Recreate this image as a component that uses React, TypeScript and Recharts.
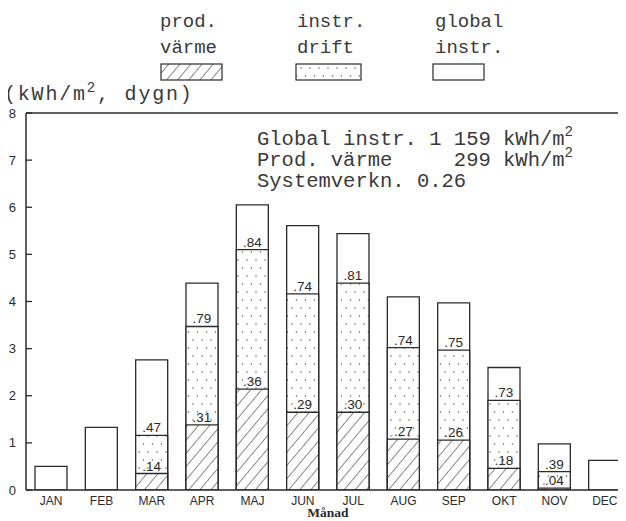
import React from "react";
import {
  BarChart,
  Bar,
  XAxis,
  YAxis,
  ReferenceLine,
  LabelList,
} from "recharts";

// monthly values, kWh/m2 per day
const months = ["JAN", "FEB", "MAR", "APR", "MAJ", "JUN", "JUL", "AUG", "SEP", "OKT", "NOV", "DEC"];
const globalInstr = [0.5, 1.33, 2.76, 4.39, 6.05, 5.61, 5.44, 4.1, 3.97, 2.6, 0.98, 0.63];
const instrDrift = [null, null, 1.16, 3.47, 5.1, 4.16, 4.39, 3.02, 2.97, 1.9, 0.39, null];
const prodVarme = [null, null, 0.35, 1.38, 2.14, 1.65, 1.65, 1.08, 1.06, 0.46, 0.04, null];
const driftLabels = ["", "", ".47", ".79", ".84", ".74", ".81", ".74", ".75", ".73", ".39", ""];
const prodLabels = ["", "", ".14", ".31", ".36", ".29", ".30", ".27", ".26", ".18", ".04", ""];
const yTicks = [0, 1, 2, 3, 4, 5, 6, 7, 8];

const data = months.map((m, i) => ({
  month: m,
  global: globalInstr[i],
  drift: instrDrift[i],
  prod: prodVarme[i],
  driftLabel: driftLabels[i],
  prodLabel: prodLabels[i],
}));

const INK = "#2b2b2b";
const SANS = "'Liberation Sans Narrow', 'Liberation Sans', Arial, sans-serif";
const MONO = "'Liberation Mono', 'DejaVu Sans Mono', monospace";

const Patterns = ({ prefix }: { prefix: string }) => (
  <defs>
    <pattern
      id={`${prefix}-hatch`}
      patternUnits="userSpaceOnUse"
      width="8.5"
      height="8.5"
      patternTransform="rotate(40)"
    >
      <rect width="8.5" height="8.5" fill="#fff" />
      <line x1="0" y1="0" x2="0" y2="8.5" stroke={INK} strokeWidth="1.1" />
    </pattern>
    <pattern id={`${prefix}-dots`} patternUnits="userSpaceOnUse" width="18" height="16">
      <rect width="18" height="16" fill="#fff" />
      <circle cx="4" cy="4" r="0.8" fill="#666" />
      <circle cx="13" cy="4" r="0.8" fill="#666" />
      <circle cx="8.5" cy="12" r="0.8" fill="#666" />
      <circle cx="17.5" cy="12" r="0.8" fill="#666" />
    </pattern>
  </defs>
);

const YTick = (props: any) => {
  const { x, y, payload } = props;
  return (
    <g>
      <line x1={x + 10} x2={x + 16} y1={y} y2={y} stroke={INK} strokeWidth={1.3} />
      <text x={x} y={y} dy={4.5} textAnchor="end" fontFamily={SANS} fontSize={13} fill={INK}>
        {payload.value}
      </text>
    </g>
  );
};

const Overlay = () => (
  <svg
    width={626}
    height={521}
    style={{ position: "absolute", left: 0, top: 0, pointerEvents: "none" }}
  >
    <Patterns prefix="lg" />
    <g fontFamily={MONO} fontSize={19} fill="#3a3a3a">
      <text x={160} y={27}>prod.</text>
      <text x={160} y={53}>värme</text>
      <text x={297} y={27}>instr.</text>
      <text x={297} y={53}>drift</text>
      <text x={435} y={27}>global</text>
      <text x={435} y={53}>instr.</text>
    </g>
    <rect x={161} y={64} width={61} height={16} fill="url(#lg-hatch)" stroke={INK} strokeWidth={1.2} />
    <rect x={296} y={64} width={65} height={16} fill="url(#lg-dots)" stroke={INK} strokeWidth={1.2} />
    <rect x={433} y={64} width={51} height={16} fill="#fff" stroke={INK} strokeWidth={1.2} />

    <text x={4} y={100} fontFamily={MONO} fontSize={20} letterSpacing={1.8} fill="#3a3a3a">
      (kWh/m<tspan dy={-8} fontSize={14}>2</tspan>
      <tspan dy={8}>, dygn)</tspan>
    </text>

    <g fontFamily={MONO} fontSize={20.5} fill="#3a3a3a" style={{ whiteSpace: "pre" }}>
      <text x={257} y={145} xmlSpace="preserve">
        Global instr. 1 159 kWh/m<tspan dy={-9} fontSize={14}>2</tspan>
      </text>
      <text x={257} y={166} xmlSpace="preserve">
        {"Prod. värme     299 kWh/m"}
        <tspan dy={-9} fontSize={14}>2</tspan>
      </text>
      <text x={257} y={187}>Systemverkn. 0.26</text>
    </g>

    <text
      x={328}
      y={517}
      textAnchor="middle"
      fontFamily="'Liberation Serif', serif"
      fontWeight="bold"
      fontSize={13.5}
      fill={INK}
    >
      Månad
    </text>
  </svg>
);

export default function App() {
  return (
    <div
      style={{
        position: "relative",
        width: 626,
        height: 521,
        margin: "-8px 0 0 -8px",
        background: "#fff",
      }}
    >
      <BarChart
        width={626}
        height={521}
        data={data}
        margin={{ top: 113, right: -4, bottom: 1, left: 0 }}
        barSize={32}
        barGap={-32}
      >
        <Patterns prefix="ch" />
        <XAxis
          dataKey="month"
          tickLine={false}
          tickMargin={0}
          axisLine={{ stroke: INK, strokeWidth: 1.5 }}
          tick={{ fontFamily: SANS, fontSize: 12, fill: INK }}
          interval={0}
          height={30}
        />
        <YAxis
          domain={[0, 8]}
          ticks={yTicks}
          width={26}
          tickSize={0}
          tickMargin={10}
          tickLine={false}
          axisLine={{ stroke: INK, strokeWidth: 1.5 }}
          tick={<YTick />}
          allowDataOverflow
        />
        <ReferenceLine y={8} stroke={INK} strokeWidth={1.3} />
        <Bar dataKey="global" fill="#fff" stroke={INK} strokeWidth={1.3} isAnimationActive={false} />
        <Bar
          dataKey="drift"
          fill="url(#ch-dots)"
          stroke={INK}
          strokeWidth={1.3}
          isAnimationActive={false}
        >
          <LabelList
            dataKey="driftLabel"
            position="top"
            offset={3}
            fontFamily={SANS}
            fontSize={13.5}
            fill={INK}
          />
        </Bar>
        <Bar
          dataKey="prod"
          fill="url(#ch-hatch)"
          stroke={INK}
          strokeWidth={1.3}
          isAnimationActive={false}
        >
          <LabelList
            dataKey="prodLabel"
            position="top"
            offset={3}
            fontFamily={SANS}
            fontSize={13.5}
            fill={INK}
          />
        </Bar>
      </BarChart>
      <Overlay />
    </div>
  );
}
